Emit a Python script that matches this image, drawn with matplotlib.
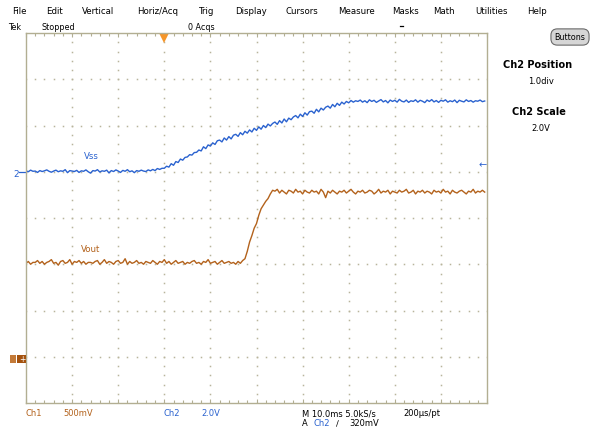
import numpy as np
import matplotlib.pyplot as plt
from matplotlib.patches import Rectangle

# screen size in px
W, H = 594, 435

# acquisition: 10 ms/div, trigger 3 div from the left, one value per 0.5 ms
t_start_ms = -30.0
dt_ms = 0.5

# Ch2 (Vss), volts
vss_v = [
    0.04, 0.00, 0.07, 0.02, 0.03, -0.03, 0.05, 0.01, 0.04, 0.08,
    0.02, -0.02, 0.03, 0.07, 0.00, 0.04, 0.02, 0.09, -0.04, 0.05,
    0.03, 0.01, 0.06, -0.03, 0.04, 0.02, 0.08, 0.00, -0.06, 0.05,
    0.03, 0.09, -0.01, 0.04, 0.02, 0.07, -0.05, 0.05, 0.01, 0.08,
    0.03, -0.03, 0.06, 0.02, 0.09, 0.00, 0.04, -0.04, 0.05, 0.02,
    0.07, 0.03, 0.01, 0.08, 0.04, 0.10, 0.05, 0.14, 0.10, 0.15,
    0.15, 0.24, 0.20, 0.35, 0.28, 0.44, 0.40, 0.55, 0.50, 0.62,
    0.64, 0.74, 0.72, 0.83, 0.84, 0.94, 0.90, 1.08, 1.00, 1.16,
    1.11, 1.25, 1.18, 1.34, 1.37, 1.29, 1.46, 1.37, 1.52, 1.42,
    1.58, 1.62, 1.53, 1.69, 1.60, 1.75, 1.67, 1.81, 1.72, 1.88,
    1.79, 1.94, 1.84, 2.00, 1.91, 2.06, 1.98, 2.09, 2.15, 2.05,
    2.21, 2.11, 2.28, 2.16, 2.32, 2.25, 2.37, 2.43, 2.33, 2.49,
    2.39, 2.55, 2.45, 2.60, 2.62, 2.53, 2.70, 2.59, 2.75, 2.67,
    2.79, 2.84, 2.75, 2.91, 2.81, 2.96, 2.87, 3.01, 2.93, 3.04,
    2.98, 3.08, 3.01, 3.07,
    3.04, 3.10, 3.01, 3.07, 2.99, 3.11, 3.04, 3.09, 3.00, 3.06,
    3.12, 3.02, 3.08, 2.98, 3.10, 3.04, 3.09, 3.01, 3.13, 3.05,
    3.02, 3.10, 3.00, 3.07, 3.04, 3.11, 3.01, 3.09, 3.05, 2.99,
    3.10, 3.04, 3.12, 3.02, 3.08, 3.00, 3.09, 3.05, 3.11, 3.01,
    3.07, 3.03, 3.10, 2.99, 3.09, 3.05, 3.02, 3.11, 3.04, 3.08,
    3.01, 3.07, 3.05, 3.10, 3.03, 3.06,
]

# Ch1 (Vout), volts
vout_v = [
    1.01, 1.03, 1.00, 1.02, 1.02, 1.04, 1.01, 1.03, 1.00, 1.02,
    1.03, 1.05, 1.01, 1.02, 0.99, 1.03, 1.04, 1.01, 1.02, 1.05,
    1.00, 1.03, 1.02, 1.04, 1.01, 1.03, 1.00, 1.02, 1.02, 1.01,
    1.03, 1.04, 1.00, 1.02, 1.05, 1.01, 1.03, 1.02, 1.00, 1.03,
    1.04, 1.01, 1.02, 1.06, 1.00, 1.03, 1.01, 1.02, 1.04, 1.01,
    1.02, 1.00, 1.03, 1.02, 1.01, 1.04, 1.02, 1.00, 1.03, 1.02,
    1.05, 1.01, 1.03, 1.00, 1.02, 1.04, 1.01, 1.02, 1.03, 1.00,
    1.02, 1.01, 1.03, 1.04, 1.01, 1.02, 1.00, 1.03, 1.02, 1.05,
    1.01, 1.02, 1.03, 1.00, 1.02, 1.04, 1.01, 1.02, 1.03, 1.01,
    1.02, 1.00, 1.03, 1.01, 1.04,
    1.06, 1.14, 1.24, 1.31, 1.39, 1.44, 1.53, 1.60, 1.64, 1.68,
    1.71, 1.76, 1.80,
    1.79, 1.81, 1.77, 1.80, 1.78, 1.76, 1.80, 1.79, 1.77, 1.81,
    1.78, 1.79, 1.76, 1.80, 1.78, 1.77, 1.80, 1.78, 1.79, 1.76,
    1.81, 1.78, 1.72, 1.79, 1.77, 1.80, 1.78, 1.76, 1.79, 1.78,
    1.80, 1.77, 1.79, 1.81, 1.78, 1.76, 1.79, 1.78, 1.80, 1.77,
    1.78, 1.80, 1.79, 1.76, 1.78, 1.81, 1.77, 1.79, 1.78, 1.80,
    1.76, 1.79, 1.78, 1.77, 1.80, 1.78, 1.79, 1.81, 1.77, 1.78,
    1.80, 1.76, 1.79, 1.78, 1.80, 1.77, 1.79, 1.78, 1.76, 1.80,
    1.78, 1.79, 1.77, 1.81, 1.78, 1.79, 1.76, 1.80, 1.78, 1.77,
    1.79, 1.80, 1.78, 1.76, 1.79, 1.78, 1.81, 1.77, 1.79, 1.78,
    1.80, 1.78,
]

# vertical settings: V/div and position in div
ch1_scale, ch1_pos = 0.5, -3.0
ch2_scale, ch2_pos = 2.0, 1.0
trig_level = 0.32

menu_items = ["File", "Edit", "Vertical", "Horiz/Acq", "Trig", "Display",
              "Cursors", "Measure", "Masks", "Math", "Utilities", "Help"]
menu_x = [12, 46, 82, 137, 199, 235, 285, 338, 392, 433, 475, 527]

C1 = "#b3621c"
C2 = "#2a62cf"
GRID = "#b8b49c"
FRAME = "#b2ae92"

t = t_start_ms + dt_ms * np.arange(len(vss_v))
vss_div = np.array(vss_v) / ch2_scale + ch2_pos
vout_div = np.array(vout_v) / ch1_scale + ch1_pos

fig = plt.figure(figsize=(W / 100, H / 100), dpi=100)


def fx(x):
    return x / W


def fy(y):
    return 1 - y / H


def txt(x, y, s, **kw):
    kw.setdefault("fontsize", 6.2)
    kw.setdefault("va", "center")
    fig.text(fx(x), fy(y), s, **kw)


ax = fig.add_axes([fx(26), fy(404), 461 / W, 370 / H])
ax.set_xlim(-30, 70)
ax.set_ylim(-4, 4)

# dotted graticule
for gx in np.arange(-20, 70, 10):
    ax.plot(np.full(41, gx), np.linspace(-4, 4, 41), ls="none", marker="s",
            ms=1.1, mew=0, color=GRID)
for gy in range(-3, 4):
    ax.plot(np.arange(-30, 70.1, 2), np.full(51, gy), ls="none", marker="s",
            ms=1.1, mew=0, color=GRID)

ax.set_xticks(np.arange(-30, 71, 10))
ax.set_xticks(np.arange(-30, 71, 2), minor=True)
ax.set_yticks([])
ax.tick_params(which="both", direction="in", top=True, bottom=True,
               labelbottom=False, color=FRAME, width=0.8)
ax.tick_params(which="major", length=3)
ax.tick_params(which="minor", length=2)
for sp in ax.spines.values():
    sp.set_color(FRAME)
    sp.set_linewidth(1.0)

# traces
ax.plot(t, vss_div, color=C2, lw=1.0)
ax.plot(t, vout_div, color=C1, lw=1.0)

# trigger position / level markers
ax.plot(0, 3.9, marker="v", color="#f5962a", ms=7, mew=0, clip_on=False)
ax.text(70, trig_level / ch2_scale + ch2_pos, "\u2190", color=C2, fontsize=7,
        ha="right", va="center")
ax.plot([-31.5, -30], [ch2_pos, ch2_pos], color=C2, lw=0.9, clip_on=False)
fig.lines.append(plt.Line2D([fx(400), fx(403)], [fy(27), fy(27)], color="black",
                            lw=0.9, transform=fig.transFigure))

# channel ground markers
txt(16.5, 174.5, "2", color=C2, fontsize=6.5, ha="center")
fig.patches.append(Rectangle((fx(10), fy(364)), 6 / W, 8.5 / H, fc="#c47a38",
                             ec="none", transform=fig.transFigure))
fig.patches.append(Rectangle((fx(17), fy(364)), 9 / W, 8.5 / H, fc="#a4520e",
                             ec="none", transform=fig.transFigure))
txt(22, 359.5, "+", color="white", fontsize=5.5, ha="center")

# trace labels
txt(84, 157, "Vss", color=C2)
txt(81, 250, "Vout", color=C1)

# menu bar and status line
for name, x in zip(menu_items, menu_x):
    txt(x, 11, name)
txt(8, 28, "Tek", fontsize=5.8)
txt(41, 28, "Stopped", fontsize=5.8)
txt(188, 28, "0 Acqs", fontsize=5.8)

# right panel
txt(570, 38, "Buttons", fontsize=5.8, ha="center",
    bbox=dict(boxstyle="round,pad=0.45,rounding_size=0.8", fc="#d6d6d6",
              ec="#6a6a6a", lw=0.8))
txt(538, 65, "Ch2 Position", fontsize=7, fontweight="bold", ha="center")
txt(541, 82, "1.0div", fontsize=6, ha="center")
txt(539, 112, "Ch2 Scale", fontsize=7, fontweight="bold", ha="center")
txt(541, 129, "2.0V", fontsize=6, ha="center")

# bottom readout
txt(26, 414, "Ch1", color=C1, fontsize=6)
txt(63, 414, "500mV", color=C1, fontsize=6)
txt(164, 414, "Ch2", color=C2, fontsize=6)
txt(201, 414, "2.0V", color=C2, fontsize=6)
txt(302, 414, "M 10.0ms 5.0kS/s", fontsize=6)
txt(403, 414, "200\u00b5s/pt", fontsize=6)
txt(302, 424, "A", fontsize=6)
txt(314, 424, "Ch2", color=C2, fontsize=6)
txt(336, 424, "\u2215", fontsize=6)
txt(349, 424, "320mV", fontsize=6)

fig.savefig("out.png", dpi=100)
